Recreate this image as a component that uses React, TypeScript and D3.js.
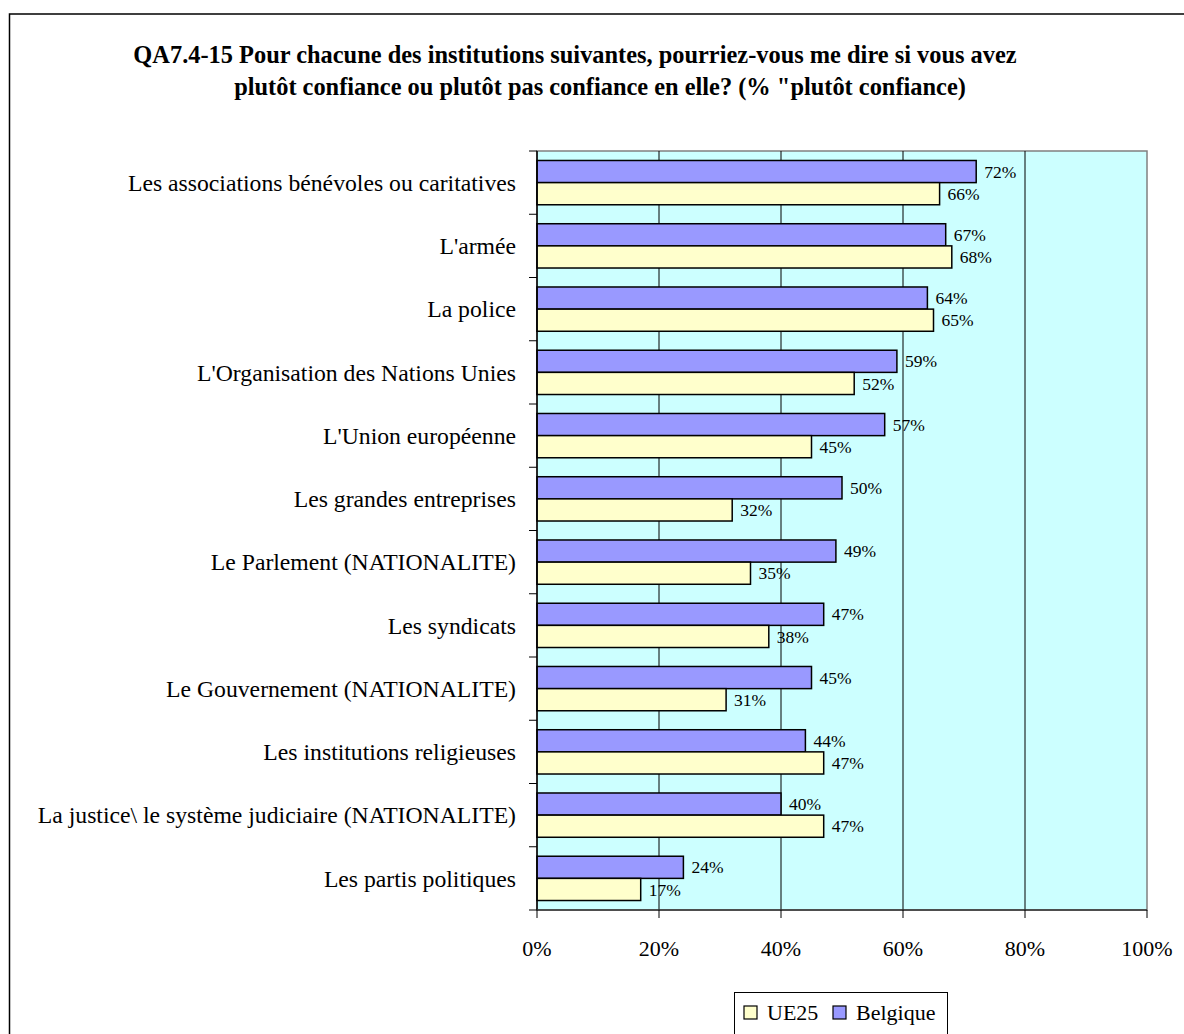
import React from "react";
import * as d3 from "d3";

const categories = [
  "Les associations bénévoles ou caritatives",
  "L'armée",
  "La police",
  "L'Organisation des Nations Unies",
  "L'Union européenne",
  "Les grandes entreprises",
  "Le Parlement (NATIONALITE)",
  "Les syndicats",
  "Le Gouvernement (NATIONALITE)",
  "Les institutions religieuses",
  "La justice\\ le système judiciaire (NATIONALITE)",
  "Les partis politiques",
];
const belgique = [72, 67, 64, 59, 57, 50, 49, 47, 45, 44, 40, 24];
const ue25 = [66, 68, 65, 52, 45, 32, 35, 38, 31, 47, 47, 17];
const xTicks = [0, 20, 40, 60, 80, 100];
const seriesNames = ["UE25", "Belgique"];
const titleLines = [
  "QA7.4-15 Pour chacune des institutions suivantes, pourriez-vous me dire si vous avez",
  "plutôt confiance ou plutôt pas confiance en elle? (% \"plutôt confiance)",
];

const FONT = "'Liberation Serif', 'Times New Roman', serif";
const C_BEL = "#9999FF";
const C_UE = "#FFFFCC";
const C_BG = "#CCFFFF";

export default function App() {
  const W = 1184, H = 1034;
  const left = 537, right = 1147, top = 151, bottom = 910;
  const x = d3.scaleLinear().domain([0, 100]).range([left, right]);
  const y = d3
    .scaleBand<string>()
    .domain(categories)
    .range([top, bottom])
    .paddingInner(0.3)
    .paddingOuter(0.15);
  const bw = y.bandwidth() / 2;
  const step = y.step();
  const tickYs = d3.range(categories.length + 1).map((i) => top + i * step);

  return (
    <svg
      width={W}
      height={H}
      style={{ position: "absolute", left: 0, top: 0, background: "#fff" }}
      fontFamily={FONT}
    >
      {/* outer frame */}
      <rect x={9.5} y={14} width={W} height={H} fill="#fff" stroke="#000" strokeWidth={1.5} />
      {/* title */}
      <text x={575} y={63} textAnchor="middle" fontSize={24.4} fontWeight="bold">
        {titleLines[0]}
      </text>
      <text x={600} y={95} textAnchor="middle" fontSize={24.4} fontWeight="bold">
        {titleLines[1]}
      </text>

      {/* plot background */}
      <rect x={left} y={top} width={right - left} height={bottom - top} fill={C_BG} stroke="#808080" strokeWidth={1.5} />
      {/* gridlines */}
      {xTicks.slice(1, -1).map((t) => (
        <line key={t} x1={x(t)} x2={x(t)} y1={top} y2={bottom} stroke="#000" strokeWidth={1} />
      ))}

      {/* bars */}
      {categories.map((c, i) => {
        const y0 = y(c)!;
        return (
          <g key={c}>
            <rect x={x(0)} y={y0} width={x(belgique[i]) - x(0)} height={bw} fill={C_BEL} stroke="#000" strokeWidth={1.5} />
            <rect x={x(0)} y={y0 + bw} width={x(ue25[i]) - x(0)} height={bw} fill={C_UE} stroke="#000" strokeWidth={1.5} />
            <text x={x(belgique[i]) + 8} y={y0 + bw / 2} dy="0.35em" fontSize={17.5}>
              {belgique[i]}%
            </text>
            <text x={x(ue25[i]) + 8} y={y0 + bw * 1.5} dy="0.35em" fontSize={17.5}>
              {ue25[i]}%
            </text>
            <text x={516} y={y0 + bw} dy="0.35em" textAnchor="end" fontSize={23.7}>
              {c}
            </text>
          </g>
        );
      })}

      {/* y axis */}
      <line x1={left} x2={left} y1={top} y2={bottom} stroke="#000" strokeWidth={1.5} />
      {tickYs.map((ty, i) => (
        <line key={i} x1={left - 8} x2={left} y1={ty} y2={ty} stroke="#000" strokeWidth={1} />
      ))}
      {/* x axis */}
      <line x1={left} x2={right} y1={bottom} y2={bottom} stroke="#333" strokeWidth={1.5} />
      {xTicks.map((t) => (
        <g key={t}>
          <line x1={x(t)} x2={x(t)} y1={bottom} y2={bottom + 8} stroke="#000" strokeWidth={1} />
          <text x={x(t)} y={956} textAnchor="middle" fontSize={22}>
            {t}%
          </text>
        </g>
      ))}

      {/* legend */}
      <rect x={734.5} y={992.5} width={213} height={50} fill="#fff" stroke="#000" strokeWidth={1} />
      {[
        { name: seriesNames[0], color: C_UE, sx: 744, tx: 767 },
        { name: seriesNames[1], color: C_BEL, sx: 833, tx: 856 },
      ].map((d) => (
        <g key={d.name}>
          <rect x={d.sx} y={1006} width={13} height={13} fill={d.color} stroke="#000" strokeWidth={1.2} />
          <text x={d.tx} y={1020} fontSize={22}>
            {d.name}
          </text>
        </g>
      ))}
    </svg>
  );
}
